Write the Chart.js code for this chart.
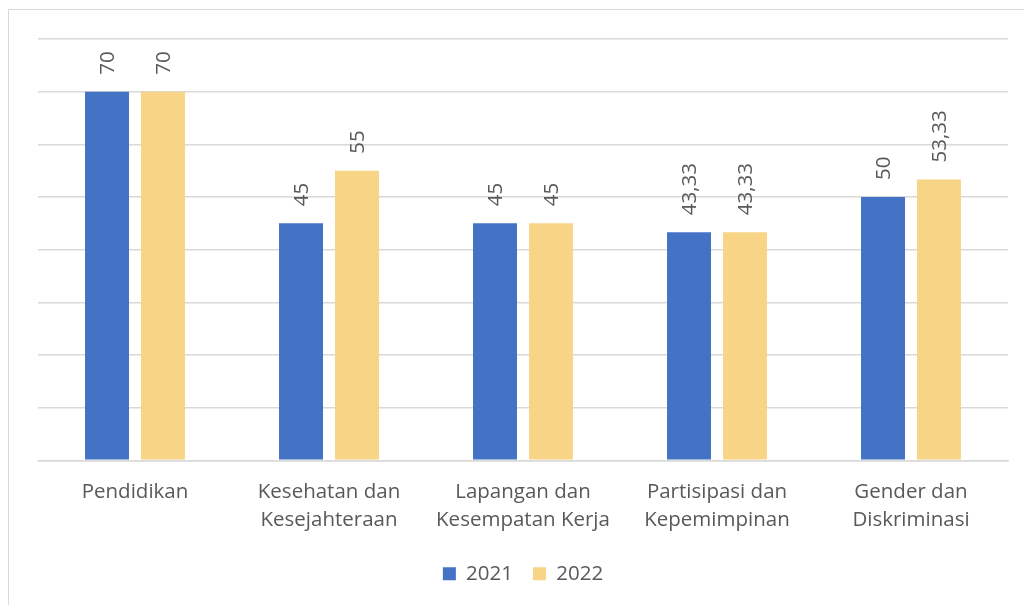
<!DOCTYPE html>
<html>
<head>
<meta charset="utf-8">
<script src="https://cdn.jsdelivr.net/npm/chart.js@4"></script>
<style>
  html, body { margin: 0; padding: 0; background: #fff; overflow: hidden; }
  #frame { position: absolute; left: 8px; top: 9px; width: 2000px; height: 2000px; border: 1px solid #d9d9d9; }
  #wrap { position: absolute; left: 0; top: 0; width: 1024px; height: 605px; }
</style>
</head>
<body>
<div id="frame"></div>
<div id="wrap"><canvas id="chart" width="1024" height="605"></canvas></div>
<script>
// kategori
var categories = [
  'Pendidikan',
  ['Kesehatan dan', 'Kesejahteraan'],
  ['Lapangan dan', 'Kesempatan Kerja'],
  ['Partisipasi dan', 'Kepemimpinan'],
  ['Gender dan', 'Diskriminasi']
];
var seriesNames = ['2021', '2022'];
var values2021 = [70, 45, 45, 43.33, 50];
var values2022 = [70, 55, 45, 43.33, 53.33];

var textColor = '#595959';
var fontFamily = '"Open Sans", "Noto Sans", sans-serif';

// label nilai vertikal di atas batang
var valueLabels = {
  id: 'valueLabels',
  afterDatasetsDraw: function(chart) {
    var ctx = chart.ctx;
    ctx.save();
    ctx.fillStyle = textColor;
    ctx.font = '20.5px ' + fontFamily;
    chart.data.datasets.forEach(function(ds, i) {
      chart.getDatasetMeta(i).data.forEach(function(bar, j) {
        var txt = String(ds.data[j]).replace('.', ',');
        ctx.save();
        ctx.translate(bar.x, bar.y - 17);
        ctx.rotate(-Math.PI / 2);
        ctx.textAlign = 'left';
        ctx.textBaseline = 'middle';
        ctx.fillText(txt, 0, 1);
        ctx.restore();
      });
    });
    ctx.restore();
  }
};

var context = document.getElementById('chart').getContext('2d');
var myChart = new Chart(context, {
  type: 'bar',
  data: {
    labels: categories,
    datasets: [{
      label: seriesNames[0],
      data: values2021,
      backgroundColor: '#4472C4'
    }, {
      label: seriesNames[1],
      data: values2022,
      backgroundColor: '#F8D486'
    }]
  },
  options: {
    responsive: false,
    animation: false,
    categoryPercentage: 0.577,
    barPercentage: 0.786,
    layout: { padding: { left: 38, right: 16, top: 39, bottom: 11 } },
    plugins: {
      legend: {
        position: 'bottom',
        labels: {
          color: textColor,
          font: { size: 20.5, family: fontFamily },
          boxWidth: 13,
          boxHeight: 13,
          padding: 20
        }
      },
      tooltip: { enabled: false }
    },
    scales: {
      x: {
        grid: { display: false, drawTicks: false },
        border: { display: true, color: '#d9d9d9', width: 1.5 },
        ticks: {
          color: textColor,
          font: { size: 20.5, family: fontFamily, lineHeight: 1.37 },
          padding: 18,
          maxRotation: 0,
          autoSkip: false
        },
        afterFit: function(scale) { scale.height = scale.height - 9; }
      },
      y: {
        min: 0,
        max: 80,
        ticks: { display: false, stepSize: 10 },
        grid: { color: '#d9d9d9', lineWidth: 1.5, drawTicks: false },
        border: { display: false },
        afterFit: function(scale) { scale.width = 0; }
      }
    }
  },
  plugins: [valueLabels]
});
</script>
</body>
</html>
